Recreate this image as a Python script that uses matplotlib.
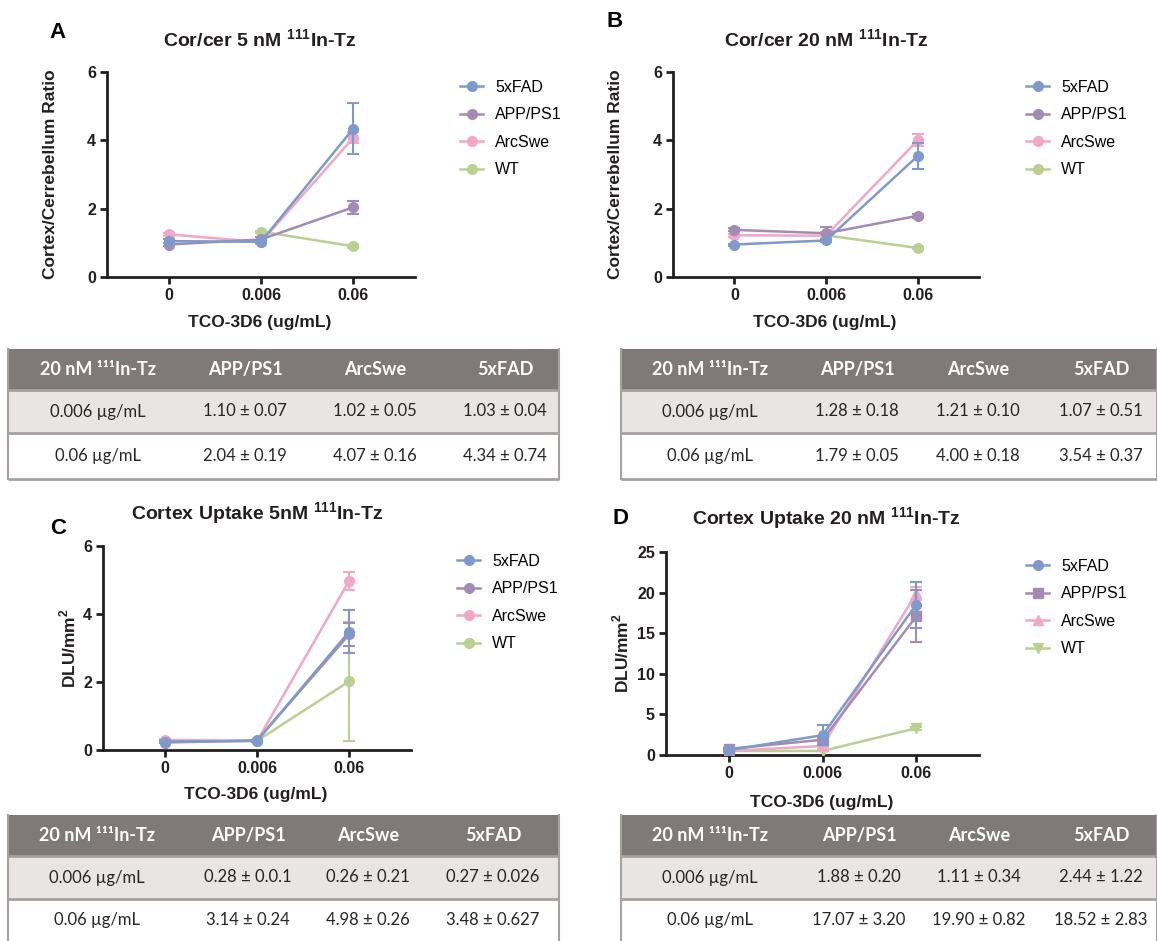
import matplotlib
matplotlib.use("Agg")
import matplotlib.pyplot as plt
from matplotlib.patches import Rectangle
import numpy as np

W, H = 1157, 941

# ---- data ----
doses = ['0', '0.006', '0.06']
groups = ['5xFAD', 'APP/PS1', 'ArcSwe', 'WT']
colors = ['#7e9acb', '#a48bb6', '#f2a7c6', '#b8d090']

# A: cortex/cerebellum ratio, 5 nM
a_mean = [[1.05, 1.03, 4.34], [0.95, 1.10, 2.04], [1.25, 1.02, 4.07], [np.nan, 1.33, 0.90]]
a_err = [[0.05, 0.04, 0.74], [0.05, 0.07, 0.19], [0.04, 0.05, 0.16], [0.0, 0.03, 0.05]]
# B: cortex/cerebellum ratio, 20 nM
b_mean = [[0.95, 1.07, 3.54], [1.38, 1.28, 1.79], [1.22, 1.21, 4.00], [np.nan, 1.22, 0.85]]
b_err = [[0.03, 0.05, 0.37], [0.04, 0.18, 0.05], [0.04, 0.10, 0.18], [0.0, 0.03, 0.03]]
# C: cortex uptake, 5 nM
c_mean = [[0.25, 0.27, 3.48], [0.22, 0.28, 3.40], [0.30, 0.26, 4.98], [0.25, 0.27, 2.02]]
c_err = [[0.03, 0.026, 0.627], [0.02, 0.01, 0.35], [0.03, 0.02, 0.26], [0.02, 0.02, 1.75]]
# D: cortex uptake, 20 nM
d_mean = [[0.60, 2.44, 18.52], [0.75, 1.88, 17.07], [0.50, 1.11, 19.90], [0.50, 0.50, 3.30]]
d_err = [[0.2, 1.22, 2.83], [0.1, 0.20, 3.20], [0.1, 0.34, 0.82], [0.05, 0.05, 0.2]]

tab_cols = ['20 nM \u00b9\u00b9\u00b9In-Tz', 'APP/PS1', 'ArcSwe', '5xFAD']
tab_rows = ['0.006 \u00b5g/mL', '0.06 \u00b5g/mL']
tab_a = [['1.10 \u00b1 0.07', '1.02 \u00b1 0.05', '1.03 \u00b1 0.04'],
         ['2.04 \u00b1 0.19', '4.07 \u00b1 0.16', '4.34 \u00b1 0.74']]
tab_b = [['1.28 \u00b1 0.18', '1.21 \u00b1 0.10', '1.07 \u00b1 0.51'],
         ['1.79 \u00b1 0.05', '4.00 \u00b1 0.18', '3.54 \u00b1 0.37']]
tab_c = [['0.28 \u00b1 0.0.1', '0.26 \u00b1 0.21', '0.27 \u00b1 0.026'],
         ['3.14 \u00b1 0.24', '4.98 \u00b1 0.26', '3.48 \u00b1 0.627']]
tab_d = [['1.88 \u00b1 0.20', '1.11 \u00b1 0.34', '2.44 \u00b1 1.22'],
         ['17.07 \u00b1 3.20', '19.90 \u00b1 0.82', '18.52 \u00b1 2.83']]

plt.rcParams['font.family'] = ['Liberation Sans', 'DejaVu Sans']
plt.rcParams['mathtext.fontset'] = 'custom'
plt.rcParams['mathtext.rm'] = 'Liberation Sans'
plt.rcParams['mathtext.bf'] = 'Liberation Sans:bold'
ink = '#231f20'
sup111 = r'$^{\mathbf{111}}$'

fig = plt.figure(figsize=(W / 100, H / 100), dpi=100)

# overlay in pixel coordinates for tables, titles, letters
ov = fig.add_axes([0, 0, 1, 1])
ov.set_xlim(0, W)
ov.set_ylim(H, 0)
ov.axis('off')


def px_rect(l, t, r, b):
    return [l / W, 1 - b / H, (r - l) / W, (b - t) / H]


def panel(box, means, errs, ylim, yticks, title, title_xy, ylabel, ylab_x, xlab_y,
          letter, letter_xy, leg_xy, markers):
    l, t, r, b = box
    ax = fig.add_axes(px_rect(l, t, r, b))
    x = np.arange(len(doses))
    handles = {}
    for i in [3, 2, 1, 0]:
        c = ax.errorbar(x, means[i], yerr=errs[i], color=colors[i], marker=markers[i],
                        ms=7, lw=1.8, elinewidth=1.5, capsize=4, capthick=1.5,
                        zorder=3 + (3 - i))
        handles[i] = c[0]
    ax.set_xlim(-0.67, 2.67)
    ax.set_ylim(*ylim)
    ax.set_yticks(yticks)
    ax.set_xticks(x)
    ax.set_xticklabels(doses)
    for s in ['top', 'right']:
        ax.spines[s].set_visible(False)
    for s in ['left', 'bottom']:
        ax.spines[s].set_linewidth(2)
        ax.spines[s].set_color(ink)
    ax.tick_params(length=5, width=2, color=ink, labelsize=11.5, pad=3)
    for lab in ax.get_xticklabels() + ax.get_yticklabels():
        lab.set_fontweight('bold')
        lab.set_color(ink)
    ov.text(title_xy[0], title_xy[1], title, fontsize=14, fontweight='bold',
            ha='center', va='center', color=ink)
    ov.text(ylab_x, (t + b) / 2, ylabel, rotation=90, fontsize=12.5, fontweight='bold',
            ha='center', va='center', color=ink)
    ov.text((l + r) / 2 - 1, xlab_y, 'TCO-3D6 (ug/mL)', fontsize=12.5, fontweight='bold',
            ha='center', va='center', color=ink)
    ov.text(letter_xy[0], letter_xy[1], letter, fontsize=16, fontweight='bold',
            ha='center', va='center', color='black')
    ax.legend([handles[i] for i in range(4)], groups, loc='upper left',
              bbox_to_anchor=(leg_xy[0] / W, 1 - leg_xy[1] / H),
              bbox_transform=fig.transFigure, frameon=False, fontsize=11.5,
              handlelength=1.45, handletextpad=0.75, labelspacing=0.78,
              borderpad=0, borderaxespad=0)
    return ax


circ = ['o', 'o', 'o', 'o']
panel((107, 72, 415, 277), a_mean, a_err, (0, 6), [0, 2, 4, 6],
      'Cor/cer 5 nM ' + sup111 + 'In-Tz', (260, 40), 'Cortex/Cerrebellum Ratio', 51, 322,
      'A', (57, 32), (460, 80), circ)
panel((673, 72, 979, 277), b_mean, b_err, (0, 6), [0, 2, 4, 6],
      'Cor/cer 20 nM ' + sup111 + 'In-Tz', (826, 40), 'Cortex/Cerrebellum Ratio', 616, 322,
      'B', (615, 21), (1026, 80), circ)
panel((103, 546, 411, 750), c_mean, c_err, (0, 6), [0, 2, 4, 6],
      'Cortex Uptake 5nM ' + sup111 + 'In-Tz', (257, 514), r'DLU/mm$^{\mathbf{2}}$', 68, 795,
      'C', (58, 528), (457, 554), circ)
panel((666, 552, 979, 755), d_mean, d_err, (0, 25), [0, 5, 10, 15, 20, 25],
      'Cortex Uptake 20 nM ' + sup111 + 'In-Tz', (826, 519), r'DLU/mm$^{\mathbf{2}}$', 621, 802,
      'D', (621, 519), (1026, 559), ['o', 's', '^', 'v'])


def table(x0, x1, ys, centers, cells, open_bottom=False):
    head_c, row1_c, row2_c = '#7f7a77', '#e9e5e4', '#ffffff'
    line_c = '#a6a19f'
    fills = [head_c, row1_c, row2_c]
    for k in range(3):
        ov.add_patch(Rectangle((x0, ys[k]), x1 - x0, ys[k + 1] - ys[k],
                               facecolor=fills[k], edgecolor='none', zorder=1))
    for k in range(1, 4):
        if k == 3 and open_bottom:
            continue
        ov.plot([x0, x1], [ys[k], ys[k]], color=line_c, lw=2, zorder=2,
                solid_capstyle='butt')
    ov.plot([x0, x0], [ys[0], ys[3]], color=line_c, lw=1.5, zorder=2)
    ov.plot([x1, x1], [ys[0], ys[3]], color=line_c, lw=1.5, zorder=2)
    for j, name in enumerate(tab_cols):
        ov.text(centers[j], (ys[0] + ys[1]) / 2, name, family='Lato', fontsize=13,
                fontweight='bold', color='white', ha='center', va='center', zorder=3)
    for i, row in enumerate(tab_rows):
        yc = (ys[i + 1] + ys[i + 2]) / 2
        ov.text(centers[0], yc, row, family='Lato', fontsize=12, color='#262626',
                ha='center', va='center', zorder=3)
        for j, v in enumerate(cells[i]):
            ov.text(centers[j + 1], yc, v, family='Lato', fontsize=12, color='#262626',
                    ha='center', va='center', zorder=3)


table(8, 559, [349, 390, 433, 479], [98, 245, 375, 505], tab_a)
table(621, 1157, [349, 390, 433, 479], [710, 857, 978, 1101], tab_b)
table(8, 559, [815, 856, 899, 941], [97, 248, 368, 493], tab_c, open_bottom=True)
table(621, 1157, [815, 856, 899, 941], [710, 859, 979, 1101], tab_d, open_bottom=True)

fig.savefig('out.png', dpi=100)
